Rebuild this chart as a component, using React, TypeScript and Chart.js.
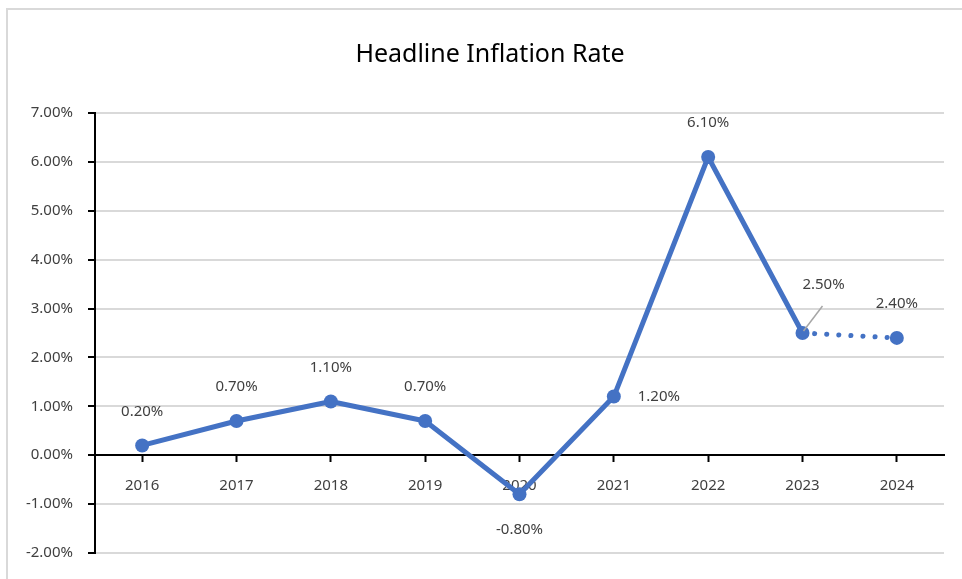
import React, { useEffect, useRef } from "react";
import { Chart, registerables } from "chart.js";

Chart.register(...registerables);

const years = ["2016", "2017", "2018", "2019", "2020", "2021", "2022", "2023", "2024"];
const inflation = [0.2, 0.7, 1.1, 0.7, -0.8, 1.2, 6.1, 2.5, 2.4];
const valueLabels = ["0.20%", "0.70%", "1.10%", "0.70%", "-0.80%", "1.20%", "6.10%", "2.50%", "2.40%"];
const labelPlacement = ["above", "above", "above", "above", "below", "right", "above", "leader", "above"];
const forecastFromIndex = 7;
const yMin = -2;
const yMax = 7;
const chartTitle = "Headline Inflation Rate";

const FONT = '"Noto Sans", "DejaVu Sans", sans-serif';
const BLUE = "#4472C4";

export default function App() {
  const ref = useRef<HTMLCanvasElement | null>(null);

  useEffect(() => {
    if (!ref.current) return;

    const framePlugin = {
      id: "frame",
      beforeDraw(chart: any) {
        const ctx = chart.ctx;
        ctx.save();
        ctx.fillStyle = "#ffffff";
        ctx.fillRect(0, 0, chart.width, chart.height);
        ctx.strokeStyle = "#d9d9d9";
        ctx.lineWidth = 2;
        ctx.strokeRect(7, 9, chart.width + 50, chart.height + 50);
        ctx.fillStyle = "#000000";
        ctx.font = `25px ${FONT}`;
        ctx.textAlign = "center";
        ctx.textBaseline = "middle";
        ctx.fillText(chartTitle, 490, 55);
        ctx.restore();
      },
    };

    const labelPlugin = {
      id: "valueLabels",
      afterDatasetsDraw(chart: any) {
        const ctx = chart.ctx;
        const meta = chart.getDatasetMeta(0);
        ctx.save();
        ctx.font = `15px ${FONT}`;
        ctx.fillStyle = "#404040";
        ctx.textAlign = "center";
        ctx.textBaseline = "middle";
        meta.data.forEach((pt: any, i: number) => {
          const place = labelPlacement[i];
          let x = pt.x;
          let y = pt.y;
          if (place === "above") y -= 34;
          else if (place === "below") y += 35;
          else if (place === "right") x += 45;
          else if (place === "leader") {
            ctx.strokeStyle = "#a6a6a6";
            ctx.lineWidth = 1.5;
            ctx.beginPath();
            ctx.moveTo(pt.x + 1, pt.y - 2);
            ctx.lineTo(pt.x + 20, pt.y - 27);
            ctx.stroke();
            x += 21;
            y -= 48;
          }
          ctx.fillText(valueLabels[i], x, y);
        });
        ctx.restore();
      },
    };

    const chart = new Chart(ref.current, {
      type: "line",
      data: {
        labels: years,
        datasets: [
          {
            data: inflation,
            borderColor: BLUE,
            backgroundColor: BLUE,
            borderWidth: 5,
            borderCapStyle: "round",
            borderJoinStyle: "round",
            pointRadius: 7,
            pointBackgroundColor: BLUE,
            pointBorderColor: BLUE,
            pointBorderWidth: 0,
            tension: 0,
            clip: false as any,
            segment: {
              borderDash: (ctx: any) => (ctx.p0DataIndex >= forecastFromIndex ? [0.1, 12] : undefined),
            },
          },
        ],
      },
      options: {
        animation: false,
        responsive: false,
        maintainAspectRatio: false,
        layout: { padding: { left: 0, right: 18, top: 113, bottom: 26 } },
        plugins: {
          legend: { display: false },
          title: { display: false },
          tooltip: { enabled: false },
        },
        scales: {
          x: {
            type: "category",
            offset: true,
            position: { y: 0 } as any,
            grid: {
              display: true,
              drawOnChartArea: false,
              drawTicks: true,
              tickLength: 6,
              tickColor: "#000000",
              tickWidth: 2,
            },
            border: { display: true, color: "#000000", width: 2 },
            ticks: {
              color: "#404040",
              font: { family: FONT, size: 15 },
              padding: 16,
              maxRotation: 0,
            },
          },
          y: {
            min: yMin,
            max: yMax,
            afterFit: (s: any) => {
              s.width = 95;
            },
            grid: {
              color: "#d9d9d9",
              lineWidth: 2,
              tickLength: 7,
              tickColor: "#000000",
              tickWidth: 2,
            },
            border: { display: true, color: "#000000", width: 2 },
            ticks: {
              stepSize: 1,
              color: "#404040",
              font: { family: FONT, size: 15 },
              padding: 15,
              callback: (v: any) => `${Number(v).toFixed(2)}%`,
            },
          },
        },
      },
      plugins: [framePlugin, labelPlugin],
    });

    return () => chart.destroy();
  }, []);

  return (
    <div style={{ position: "absolute", left: 0, top: 0, width: 962, height: 579 }}>
      <canvas ref={ref} width={962} height={579} style={{ width: 962, height: 579, display: "block" }} />
    </div>
  );
}
